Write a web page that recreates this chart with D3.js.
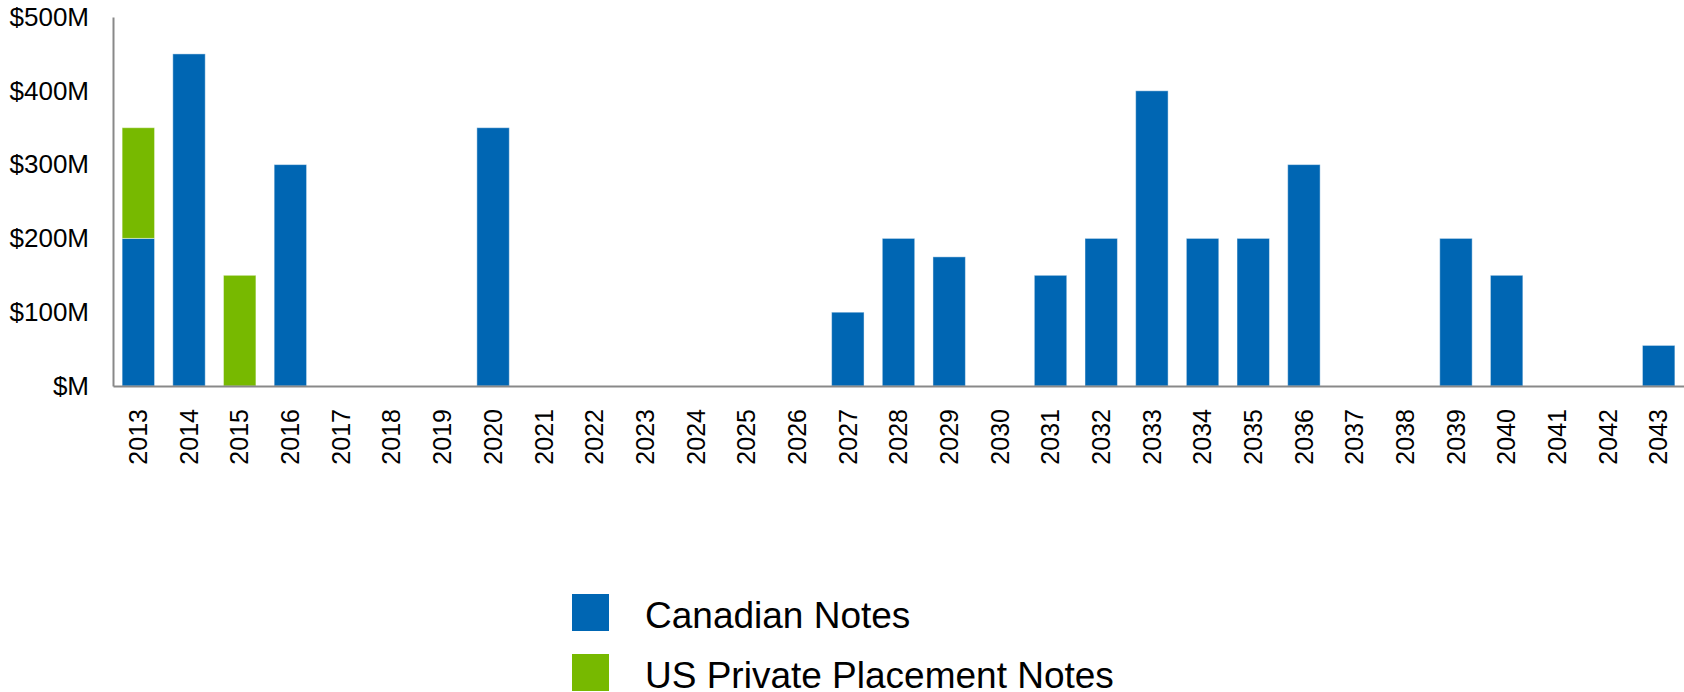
<!DOCTYPE html>
<html>
<head>
<meta charset="utf-8">
<script src="https://cdn.jsdelivr.net/npm/d3@7"></script>
<style>
  body { margin: 0; background: #fff; }
  text { font-family: "Liberation Sans", Arial, sans-serif; fill: #000; }
</style>
</head>
<body>
<div id="chart"></div>
<script>
// maturity years
var years = ['2013','2014','2015','2016','2017','2018','2019','2020','2021','2022',
  '2023','2024','2025','2026','2027','2028','2029','2030','2031','2032','2033',
  '2034','2035','2036','2037','2038','2039','2040','2041','2042','2043'];
// $M
var canadianNotes = [200,450,0,300,0,0,0,350,0,0,0,0,0,0,100,200,175,0,150,200,400,
  200,200,300,0,0,200,150,0,0,55];
var usPrivateNotes = [150,0,150,0,0,0,0,0,0,0,0,0,0,0,0,0,0,0,0,0,0,0,0,0,0,0,0,0,0,0,0];
var seriesNames = ['Canadian Notes', 'US Private Placement Notes'];
var seriesColors = ['#0066b3', '#77b900'];
var yTicks = [0, 100, 200, 300, 400, 500];

var width = 1684, height = 692;
var margin = { left: 113, right: 0, top: 17, bottom: 306 };

var rows = years.map(function(y, i) {
  return { year: y, can: canadianNotes[i], us: usPrivateNotes[i] };
});
var stacked = d3.stack().keys(['can', 'us'])(rows);

var x = d3.scaleBand().domain(years)
  .range([margin.left, width - margin.right])
  .paddingInner(0.36).paddingOuter(0.18);
var y = d3.scaleLinear().domain([0, 500])
  .range([height - margin.bottom, margin.top]);

var svg = d3.select('#chart').append('svg')
  .attr('width', width).attr('height', height);

svg.selectAll('g.series')
  .data(stacked)
  .enter().append('g')
  .attr('class', 'series')
  .attr('fill', function(d, i) { return seriesColors[i]; })
  .selectAll('rect')
  .data(function(d) { return d.filter(function(p) { return p[1] > p[0]; }); })
  .enter().append('rect')
  .attr('x', function(d) { return x(d.data.year); })
  .attr('y', function(d) { return y(d[1]); })
  .attr('width', x.bandwidth())
  .attr('height', function(d) { return y(d[0]) - y(d[1]); })
  .attr('stroke', 'rgba(255,255,255,0.45)')
  .attr('stroke-width', 1);

// y axis
var yAxis = svg.append('g')
  .attr('transform', 'translate(' + margin.left + ',0)')
  .call(d3.axisLeft(y).tickValues(yTicks).tickSize(0).tickPadding(24)
    .tickFormat(function(d) { return '$' + (d === 0 ? '' : d) + 'M'; }));
yAxis.select('.domain').attr('stroke', '#898989').attr('stroke-width', 2);
yAxis.selectAll('text').attr('font-size', 26).attr('font-family', '"Liberation Sans", Arial, sans-serif');

// x axis
var xAxis = svg.append('g')
  .attr('transform', 'translate(0,' + y(0) + ')')
  .call(d3.axisBottom(x).tickSize(0).tickSizeOuter(0));
xAxis.select('.domain').attr('stroke', '#898989').attr('stroke-width', 2);
xAxis.selectAll('text')
  .attr('font-size', 25)
  .attr('font-family', '"Liberation Sans", Arial, sans-serif')
  .attr('text-anchor', 'end')
  .attr('transform', 'rotate(-90)')
  .attr('x', -23)
  .attr('y', 0)
  .attr('dy', '0.35em');

// legend
var legend = svg.append('g').selectAll('g')
  .data(seriesNames)
  .enter().append('g')
  .attr('transform', function(d, i) { return 'translate(572,' + (594 + i * 60) + ')'; });
legend.append('rect')
  .attr('width', 37).attr('height', 37)
  .attr('fill', function(d, i) { return seriesColors[i]; });
legend.append('text')
  .attr('x', 73).attr('y', 21).attr('dy', '0.35em')
  .attr('font-size', 37)
  .text(function(d) { return d; });
</script>
</body>
</html>
